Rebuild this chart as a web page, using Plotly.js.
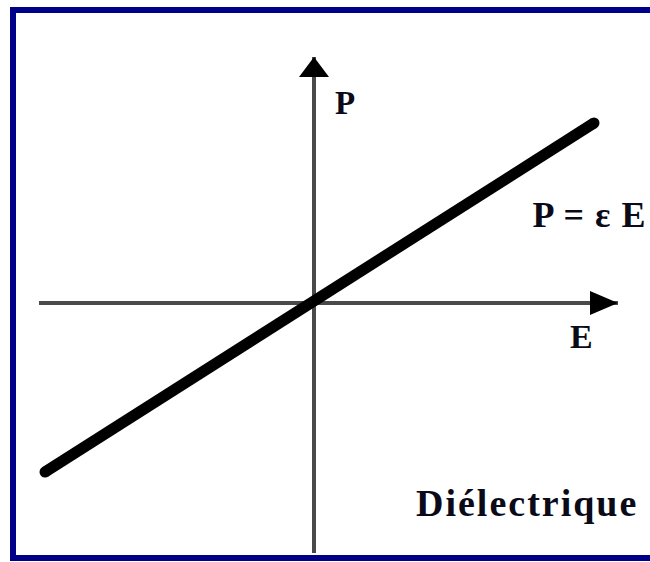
<!DOCTYPE html>
<html>
<head>
<meta charset="utf-8">
<script src="https://cdn.plot.ly/plotly-3.0.1.min.js"></script>
<style>
html,body{margin:0;padding:0;background:#fff;}
#chart{width:650px;height:562px;}
g.annotation[data-index="2"] text{letter-spacing:1px;}
g.annotation[data-index="3"] text{letter-spacing:2px;}
</style>
</head>
<body>
<div id="chart"></div>
<script>
// ---- data ----
var fieldE = [-5.38, 5.6];           // E values of the line ends
var polarP = [-3.38, 3.6];           // P = eps * E
var axisE = [-5.5, 6.08];            // horizontal axis extent (E)
var axisP = [-5.0, 4.92];            // vertical axis extent (P)
var labelAxisE = 'E';
var labelAxisP = 'P';
var labelLaw = 'P = \u03b5 E';
var labelMaterial = 'Di\u00e9lectrique';

// ---- scale (pixels per data unit) ----
var W = 650, H = 562, ox = 314, oy = 303, s = 50;
var xr = [-ox / s, (W - ox) / s];
var yr = [(oy - H) / s, oy / s];
function px(v){ return v / s; }

var axisColor = '#4a4a4a';
var font = 'Liberation Serif, Times New Roman, serif';
var ink = '#0a0a18';

// arrowheads built from axis ends
var hTip = axisE[1], hLen = px(28), hHalf = px(12);
var vTip = axisP[1], vLen = px(20), vHalf = px(15);

var traces = [
  {x: axisE, y: [0, 0], mode: 'lines', line: {color: axisColor, width: 4}},
  {x: [0, 0], y: axisP, mode: 'lines', line: {color: axisColor, width: 4}},
  {x: [hTip, hTip - hLen, hTip - hLen, hTip], y: [0, hHalf, -hHalf, 0], mode: 'lines',
   fill: 'toself', fillcolor: '#000', line: {width: 0, color: '#000'}},
  {x: [0, vHalf, -vHalf, 0], y: [vTip, vTip - vLen, vTip - vLen, vTip], mode: 'lines',
   fill: 'toself', fillcolor: '#000', line: {width: 0, color: '#000'}},
  {x: fieldE, y: polarP, mode: 'lines+markers', line: {color: '#000', width: 11},
   marker: {color: '#000', size: 11}}
];

var layout = {
  width: W, height: H,
  margin: {l: 0, r: 0, t: 0, b: 0},
  paper_bgcolor: '#fff', plot_bgcolor: '#fff',
  showlegend: false,
  xaxis: {range: xr, visible: false, fixedrange: true},
  yaxis: {range: yr, visible: false, fixedrange: true},
  shapes: [
    {type: 'path', xref: 'paper', yref: 'paper',
     path: 'M ' + (700/W) + ' ' + (1 - (H - 4)/H) + ' L ' + (13/W) + ' ' + (1 - (H - 4)/H) +
           ' L ' + (13/W) + ' ' + (1 - 10/H) + ' L ' + (700/W) + ' ' + (1 - 10/H),
     line: {color: '#000088', width: 6}}
  ],
  annotations: [
    {x: px(345 - ox), y: px(oy - 103), text: '<b>' + labelAxisP + '</b>', showarrow: false,
     font: {family: font, size: 33, color: ink}},
    {x: px(581 - ox), y: px(oy - 336), text: '<b>' + labelAxisE + '</b>', showarrow: false,
     font: {family: font, size: 34, color: ink}},
    {x: px(589 - ox), y: px(oy - 215), text: '<b>' + labelLaw + '</b>', showarrow: false,
     font: {family: font, size: 36, color: ink}},
    {x: px(527 - ox), y: px(oy - 503), text: '<b>' + labelMaterial + '</b>', showarrow: false,
     font: {family: font, size: 38, color: ink}}
  ]
};

Plotly.newPlot('chart', traces, layout, {staticPlot: true, displayModeBar: false});
</script>
</body>
</html>
